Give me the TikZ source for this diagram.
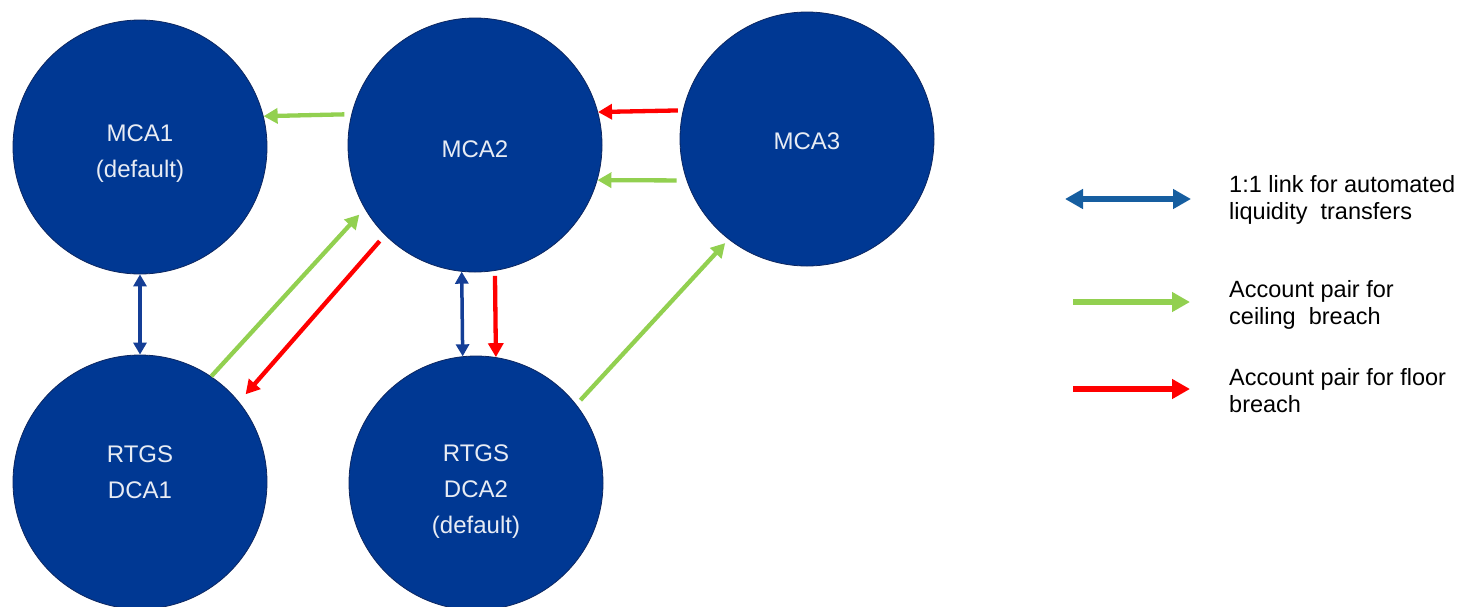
\documentclass[tikz,border=0pt]{standalone}
\usepackage{fontspec}
\setmainfont{Liberation Sans}
\usetikzlibrary{arrows.meta}

\definecolor{acct}{RGB}{0,56,147}
\definecolor{acctedge}{RGB}{12,38,96}
\definecolor{labeltext}{RGB}{232,236,244}
\definecolor{ceilgreen}{RGB}{146,208,80}
\definecolor{floorred}{RGB}{255,0,0}
\definecolor{linkblue}{RGB}{20,62,150}
\definecolor{legendblue}{RGB}{22,94,160}

\begin{document}
\begin{tikzpicture}[x=1pt,y=-1pt,
  account/.style={circle, fill=acct, draw=acctedge, line width=0.8pt,
    minimum size=254pt, inner sep=0pt},
  acctlabel/.style={text=labeltext, font=\fontsize{24}{36}\selectfont,
    align=center, anchor=base, inner sep=0pt},
  linkarrow/.style={draw=linkblue, line width=3.5pt,
    arrows={Triangle[length=12pt,width=13pt]-Triangle[length=12pt,width=13pt]}},
  ceilarrow/.style={draw=ceilgreen, line width=4.3pt,
    arrows={-Triangle[length=14pt,width=15pt]}},
  floorarrow/.style={draw=floorred, line width=4.3pt,
    arrows={-Triangle[length=14pt,width=15pt]}},
  legtext/.style={font=\fontsize{23.5}{27}\selectfont, align=left,
    anchor=base west, inner sep=0pt},
]
\useasboundingbox (0,0) rectangle (1457,606);

% accounts
\node[account] (mca1) at (140,147) {};
\node[account] (mca2) at (475,145) {};
\node[account] (mca3) at (807,139) {};
\node[account] (dca1) at (140,482) {};
\node[account] (dca2) at (476,483) {};

% labels (anchor base sits on the last line)
\node[acctlabel] (mca1-t) at (140,177) {MCA1\\(default)};
\node[acctlabel] (mca2-t) at (475,157) {MCA2};
\node[acctlabel] (mca3-t) at (807,149.5) {MCA3};
\node[acctlabel] (dca1-t) at (140,498) {RTGS\\DCA1};
\node[acctlabel] (dca2-t) at (476,533) {RTGS\\DCA2\\(default)};

% 1:1 links
\draw[linkarrow] (mca1.south) -- (dca1.north);
\draw[linkarrow] (mca2.264) -- (dca2.96);

% ceiling breach pairs
\draw[ceilarrow, shorten <=7pt] (mca2.166.8) -- (mca1.14.1);
\draw[ceilarrow, shorten <=10pt] (mca3.199.8) -- (mca2.-16.9);
\draw[ceilarrow, shorten >=8pt] (dca1.56) -- (mca2.210);
\draw[ceilarrow, shorten <=6pt, shorten >=5pt] (dca2.38) -- (mca3.232);

% floor breach pairs
\draw[floorarrow, shorten <=5pt] (mca3.167.3) -- (mca2.15.5);
\draw[floorarrow, shorten <=5pt] (mca2.279.5) -- (dca2.81);
\draw[floorarrow, shorten <=8pt, shorten >=10pt] (mca2.225) -- (dca1.39);

% legend
\coordinate (lg1a) at (1065,199);
\coordinate (lg1b) at (1191,199);
\coordinate (lg2a) at (1073,302);
\coordinate (lg2b) at (1190,302);
\coordinate (lg3a) at (1073,389);
\coordinate (lg3b) at (1190,389);
\draw[draw=legendblue, line width=5.5pt,
  arrows={Triangle[length=18pt,width=19pt]-Triangle[length=18pt,width=19pt]}] (lg1a) -- (lg1b);
\draw[draw=ceilgreen, line width=5.5pt,
  arrows={-Triangle[length=18pt,width=19pt]}] (lg2a) -- (lg2b);
\draw[draw=floorred, line width=5.5pt,
  arrows={-Triangle[length=18pt,width=19pt]}] (lg3a) -- (lg3b);

\node[legtext] (lg1-t) at (1229,219) {1:1 link for automated\\liquidity\ \ transfers};
\node[legtext] (lg2-t) at (1229,324) {Account pair for\\ceiling\ \ breach};
\node[legtext] (lg3-t) at (1229,412) {Account pair for floor\\breach};
\end{tikzpicture}
\end{document}
